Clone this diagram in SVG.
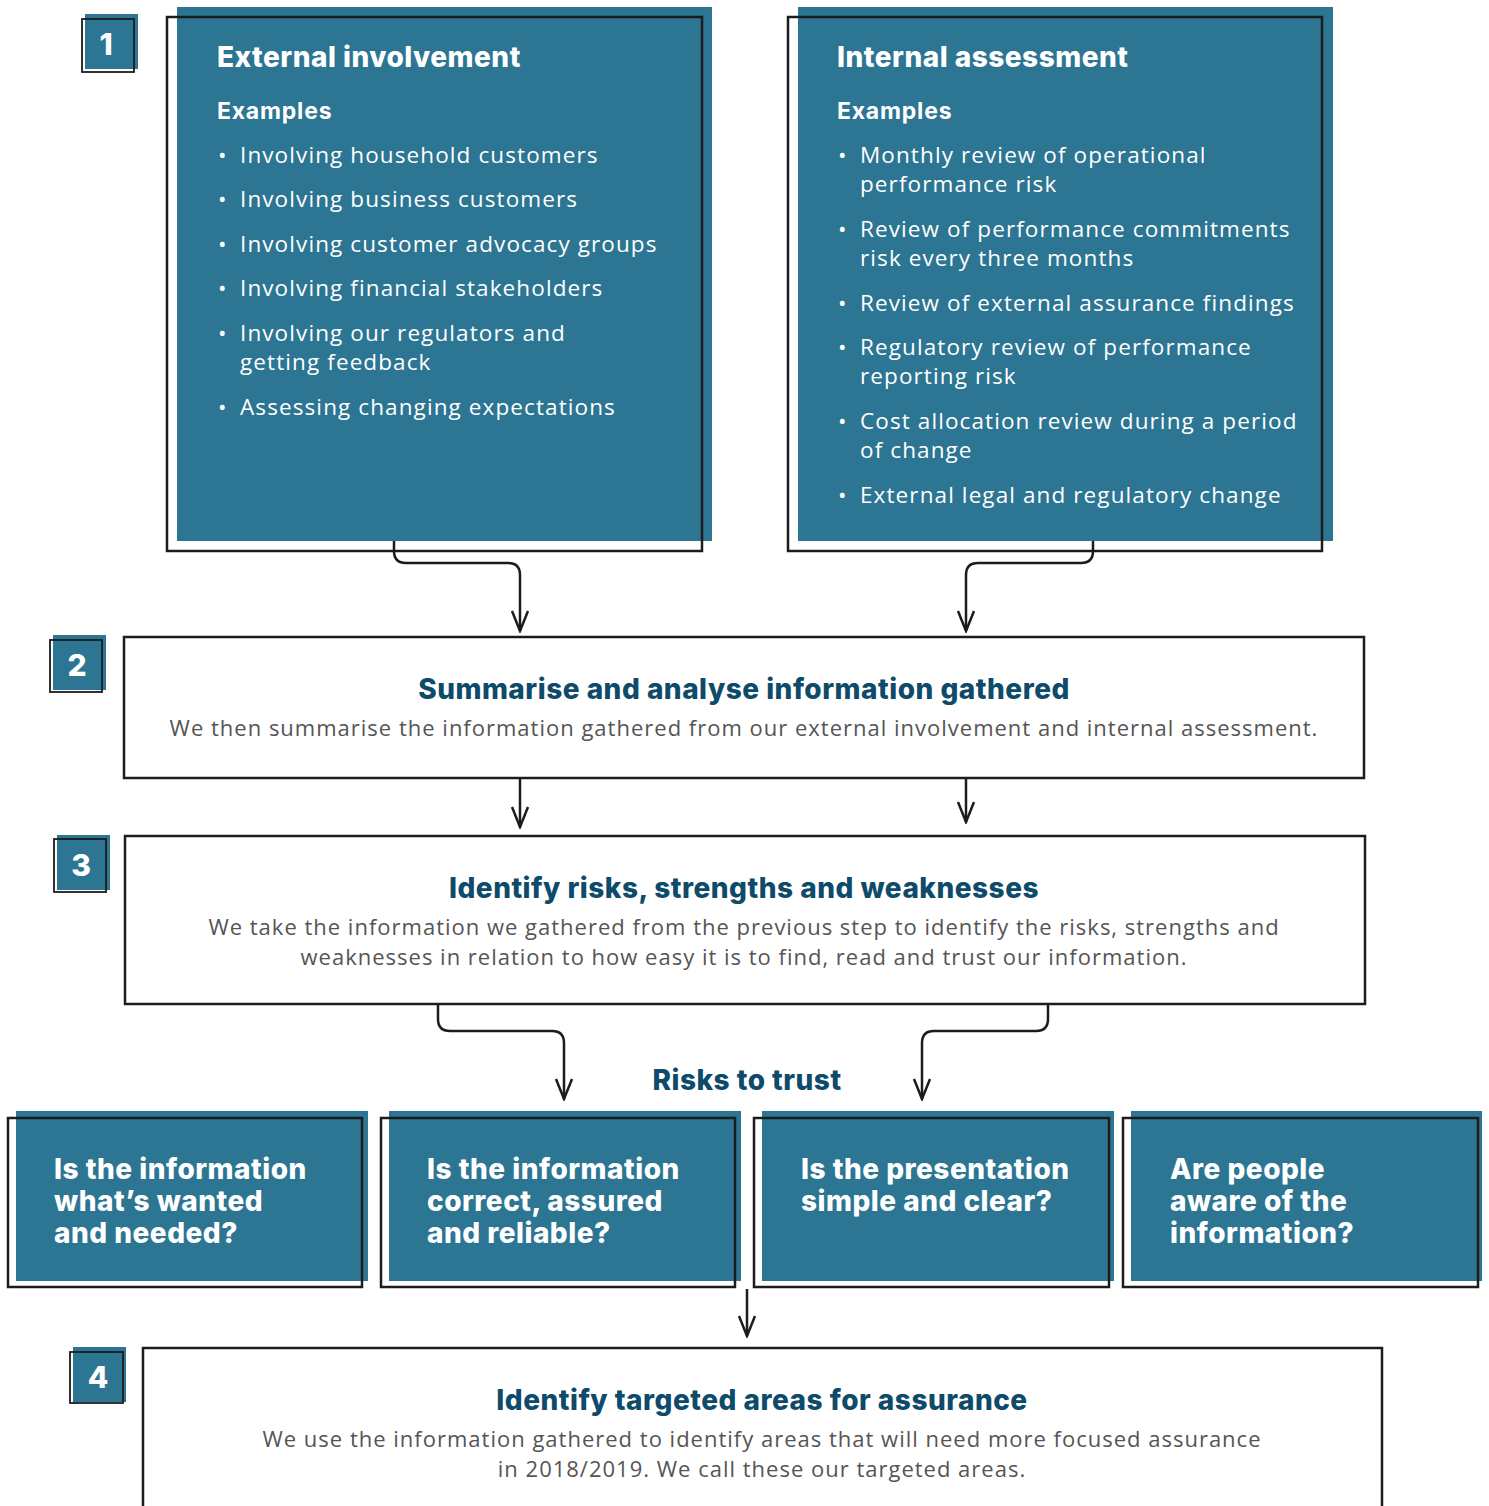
<svg xmlns="http://www.w3.org/2000/svg" width="1489" height="1506" viewBox="0 0 1489 1506">
<style>
.teal{fill:#2c7593}
.out{fill:none;stroke:#1c1c1c;stroke-width:2.5}
.bout{fill:none;stroke:#1c1c1c;stroke-width:1.8}
.wbox{fill:#ffffff;stroke:#1c1c1c;stroke-width:2.5}
.num{font-family:Inter,"Liberation Sans",sans-serif;font-weight:800;font-size:30px;fill:#ffffff;text-anchor:middle}
.h1{font-family:Inter,"Liberation Sans",sans-serif;font-weight:800;font-size:28px;fill:#ffffff;letter-spacing:0.5px}
.h2{font-family:Inter,"Liberation Sans",sans-serif;font-weight:700;font-size:23px;fill:#ffffff;letter-spacing:0.8px}
.li{font-family:"Open Sans","Liberation Sans",sans-serif;font-size:22.5px;fill:#ffffff;letter-spacing:1.1px}
.ht{font-family:Inter,"Liberation Sans",sans-serif;font-weight:800;font-size:28px;fill:#0e4a6a;text-anchor:middle;letter-spacing:0.5px}
.bd{font-family:"Open Sans","Liberation Sans",sans-serif;font-size:22px;fill:#555555;text-anchor:middle;letter-spacing:1px}
.q{font-family:Inter,"Liberation Sans",sans-serif;font-weight:800;font-size:28px;fill:#ffffff;letter-spacing:0.5px}
.conn{fill:none;stroke:#1c1c1c;stroke-width:2.5}
</style>
<defs>
<marker id="arr" viewBox="0 0 24 20" refX="22" refY="10" markerWidth="24" markerHeight="20" markerUnits="userSpaceOnUse" orient="auto">
<path d="M2,2 L22,10 L2,18" fill="none" stroke="#1c1c1c" stroke-width="2.5"/>
</marker>
</defs>

<g id="badge1"><rect class="teal" x="85" y="14" width="53" height="55"/><rect class="bout" x="82" y="19" width="52" height="53"/><text class="num" x="106" y="55">1</text></g>
<g id="badge2"><rect class="teal" x="53" y="635" width="53" height="55"/><rect class="bout" x="50" y="640" width="52" height="52"/><text class="num" x="77" y="676">2</text></g>
<g id="badge3"><rect class="teal" x="57" y="835" width="53" height="55"/><rect class="bout" x="54" y="839" width="52" height="53"/><text class="num" x="81" y="876">3</text></g>
<g id="badge4"><rect class="teal" x="73" y="1347" width="53" height="55"/><rect class="bout" x="70" y="1352" width="53" height="51"/><text class="num" x="98" y="1388">4</text></g>

<g id="external">
<rect class="teal" x="177" y="7" width="535" height="534"/>
<rect class="out" x="167" y="17" width="535" height="534"/>
<text class="h1" x="217" y="67">External involvement</text>
<text class="h2" x="217" y="119">Examples</text>
<g class="li">
<text x="218" y="163">•</text><text x="240" y="163">Involving household customers</text>
<text x="218" y="207">•</text><text x="240" y="207">Involving business customers</text>
<text x="218" y="252">•</text><text x="240" y="252">Involving customer advocacy groups</text>
<text x="218" y="296">•</text><text x="240" y="296">Involving financial stakeholders</text>
<text x="218" y="341">•</text><text x="240" y="341">Involving our regulators and</text>
<text x="240" y="370">getting feedback</text>
<text x="218" y="415">•</text><text x="240" y="415">Assessing changing expectations</text>
</g>
</g>

<g id="internal">
<rect class="teal" x="798" y="7" width="535" height="534"/>
<rect class="out" x="788" y="17" width="534" height="534"/>
<text class="h1" x="837" y="67">Internal assessment</text>
<text class="h2" x="837" y="119">Examples</text>
<g class="li">
<text x="838" y="163">•</text><text x="860" y="163">Monthly review of operational</text>
<text x="860" y="192">performance risk</text>
<text x="838" y="237">•</text><text x="860" y="237">Review of performance commitments</text>
<text x="860" y="266">risk every three months</text>
<text x="838" y="311">•</text><text x="860" y="311">Review of external assurance findings</text>
<text x="838" y="355">•</text><text x="860" y="355">Regulatory review of performance</text>
<text x="860" y="384">reporting risk</text>
<text x="838" y="429">•</text><text x="860" y="429">Cost allocation review during a period</text>
<text x="860" y="458">of change</text>
<text x="838" y="503">•</text><text x="860" y="503">External legal and regulatory change</text>
</g>
</g>

<g id="step2">
<rect class="wbox" x="124" y="637" width="1240" height="141"/>
<text class="ht" x="744" y="699">Summarise and analyse information gathered</text>
<text class="bd" x="744" y="736">We then summarise the information gathered from our external involvement and internal assessment.</text>
</g>

<g id="step3">
<rect class="wbox" x="125" y="836" width="1240" height="168"/>
<text class="ht" x="744" y="898">Identify risks, strengths and weaknesses</text>
<text class="bd" x="744" y="935">We take the information we gathered from the previous step to identify the risks, strengths and</text>
<text class="bd" x="744" y="965">weaknesses in relation to how easy it is to find, read and trust our information.</text>
</g>

<g id="risks-label"><text class="ht" x="747" y="1090">Risks to trust</text></g>

<g id="q1">
<rect class="teal" x="16" y="1111" width="352" height="170"/>
<rect class="out" x="8" y="1118" width="354" height="169"/>
<text class="q" x="54" y="1179">Is the information</text>
<text class="q" x="54" y="1211">what’s wanted</text>
<text class="q" x="54" y="1243">and needed?</text>
</g>
<g id="q2">
<rect class="teal" x="389" y="1111" width="352" height="170"/>
<rect class="out" x="381" y="1118" width="354" height="169"/>
<text class="q" x="427" y="1179">Is the information</text>
<text class="q" x="427" y="1211">correct, assured</text>
<text class="q" x="427" y="1243">and reliable?</text>
</g>
<g id="q3">
<rect class="teal" x="762" y="1111" width="352" height="170"/>
<rect class="out" x="754" y="1118" width="355" height="169"/>
<text class="q" x="801" y="1179">Is the presentation</text>
<text class="q" x="801" y="1211">simple and clear?</text>
</g>
<g id="q4">
<rect class="teal" x="1131" y="1111" width="351" height="170"/>
<rect class="out" x="1123" y="1118" width="355" height="169"/>
<text class="q" x="1170" y="1179">Are people</text>
<text class="q" x="1170" y="1211">aware of the</text>
<text class="q" x="1170" y="1243">information?</text>
</g>

<g id="step4">
<rect class="wbox" x="143" y="1348" width="1239" height="170"/>
<text class="ht" x="762" y="1410">Identify targeted areas for assurance</text>
<text class="bd" x="762" y="1447">We use the information gathered to identify areas that will need more focused assurance</text>
<text class="bd" x="762" y="1477">in 2018/2019. We call these our targeted areas.</text>
</g>

<g id="connectors">
<path class="conn" d="M394,541 V551 Q394,563 406,563 H508 Q520,563 520,575 V631" marker-end="url(#arr)"/>
<path class="conn" d="M1093,541 V551 Q1093,563 1081,563 H978 Q966,563 966,575 V631" marker-end="url(#arr)"/>
<path class="conn" d="M520,779 V827" marker-end="url(#arr)"/>
<path class="conn" d="M966,779 V822" marker-end="url(#arr)"/>
<path class="conn" d="M438,1005 V1019 Q438,1031 450,1031 H552 Q564,1031 564,1043 V1099" marker-end="url(#arr)"/>
<path class="conn" d="M1048,1005 V1019 Q1048,1031 1036,1031 H934 Q922,1031 922,1043 V1099" marker-end="url(#arr)"/>
<path class="conn" d="M747,1289 V1336" marker-end="url(#arr)"/>
</g>
</svg>
